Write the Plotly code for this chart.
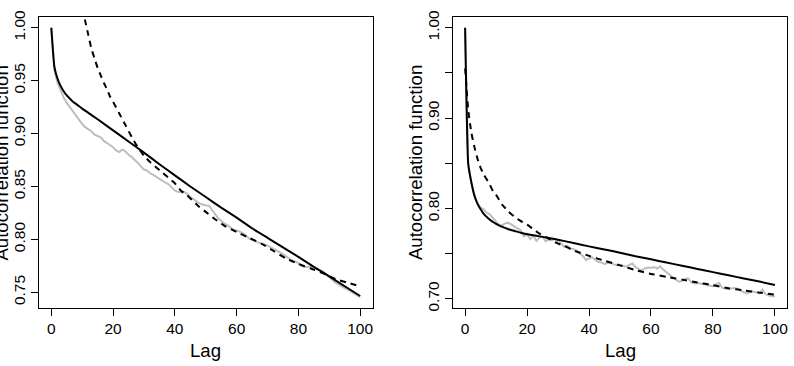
import plotly.graph_objects as go

# ---------------- data ----------------
# Left panel
left_lag_gray = list(range(0, 101))
left_gray = [1.000, 0.960, 0.948, 0.940, 0.934, 0.929, 0.925, 0.921, 0.916, 0.912,
             0.909, 0.906, 0.904, 0.902, 0.899, 0.898, 0.8965, 0.893, 0.891, 0.889,
             0.887, 0.884, 0.8825, 0.885, 0.883, 0.880, 0.878, 0.875, 0.8725, 0.869,
             0.866, 0.865, 0.8625, 0.861, 0.859, 0.857, 0.855, 0.8535, 0.852, 0.849,
             0.846, 0.845, 0.8445, 0.845, 0.843, 0.840, 0.838, 0.836, 0.834, 0.833,
             0.832, 0.832, 0.828, 0.823, 0.820, 0.8175, 0.815, 0.8135, 0.8115, 0.809,
             0.8085, 0.8075, 0.806, 0.8035, 0.801, 0.7995, 0.798, 0.797, 0.796, 0.7955,
             0.794, 0.7925, 0.791, 0.789, 0.788, 0.786, 0.784, 0.782, 0.780, 0.779,
             0.7775, 0.775, 0.774, 0.774, 0.7745, 0.7735, 0.772, 0.771, 0.7695, 0.767,
             0.764, 0.761, 0.759, 0.7575, 0.7555, 0.754, 0.7525, 0.751, 0.749, 0.747,
             0.7455]

left_lag_solid = [0, 1, 2, 3, 4, 5, 6, 7, 8, 10, 12, 15, 20, 25, 30, 35, 40, 45, 50,
                  55, 60, 65, 70, 75, 80, 85, 90, 95, 100]
left_solid = [1.000, 0.963, 0.952, 0.945, 0.940, 0.936, 0.933, 0.930, 0.928, 0.9235,
              0.9195, 0.9135, 0.903, 0.8925, 0.882, 0.871, 0.8605, 0.850, 0.840,
              0.830, 0.8205, 0.8105, 0.8015, 0.7925, 0.7835, 0.774, 0.765, 0.7557,
              0.7465]

left_lag_dash = [10, 11, 12, 13, 14, 15, 16, 17, 18, 19, 20, 22, 24, 26, 28, 30, 32,
                 34, 36, 38, 40, 42, 44, 46, 48, 50, 53, 56, 60, 64, 68, 72, 76, 80,
                 84, 88, 92, 96, 100]
left_dash = [1.018, 1.006, 0.993, 0.980, 0.971, 0.962, 0.955, 0.948, 0.942, 0.935,
             0.930, 0.919, 0.908, 0.897, 0.887, 0.879, 0.873, 0.868, 0.863, 0.858,
             0.853, 0.846, 0.8415, 0.836, 0.8305, 0.826, 0.819, 0.813, 0.807, 0.8015,
             0.796, 0.789, 0.782, 0.7768, 0.7725, 0.768, 0.7625, 0.759, 0.7555]

# Right panel
right_lag_gray = list(range(0, 101))
right_gray = [1.000, 0.850, 0.829, 0.815, 0.806, 0.801, 0.799, 0.795, 0.7935, 0.789,
              0.785, 0.782, 0.7815, 0.7835, 0.784, 0.782, 0.7795, 0.777, 0.7755, 0.769,
              0.772, 0.766, 0.770, 0.764, 0.7675, 0.769, 0.7635, 0.766, 0.7645, 0.7665,
              0.764, 0.761, 0.7575, 0.7585, 0.7555, 0.755, 0.753, 0.750, 0.7475, 0.743,
              0.7445, 0.746, 0.743, 0.741, 0.740, 0.7385, 0.7395, 0.740, 0.738, 0.737,
              0.7375, 0.7365, 0.7355, 0.7375, 0.739, 0.735, 0.733, 0.7315, 0.7335, 0.7345,
              0.734, 0.735, 0.7335, 0.736, 0.732, 0.729, 0.726, 0.7235, 0.721, 0.719,
              0.7195, 0.722, 0.7225, 0.718, 0.717, 0.7175, 0.717, 0.716, 0.7155, 0.7145,
              0.714, 0.716, 0.7175, 0.712, 0.7115, 0.7105, 0.7115, 0.712, 0.711, 0.7085,
              0.707, 0.706, 0.7075, 0.708, 0.707, 0.706, 0.710, 0.705, 0.7035, 0.703,
              0.7025]

right_lag_solid = [0, 1, 2, 3, 4, 5, 6, 7, 8, 9, 10, 12, 14, 16, 18, 20, 25, 30, 35,
                   40, 45, 50, 55, 60, 65, 70, 75, 80, 85, 90, 95, 100]
right_solid = [1.000, 0.849, 0.829, 0.814, 0.805, 0.799, 0.794, 0.7905, 0.7875, 0.785,
               0.783, 0.7795, 0.777, 0.775, 0.773, 0.7715, 0.7685, 0.7653, 0.7617,
               0.758, 0.7545, 0.751, 0.747, 0.7437, 0.7401, 0.7366, 0.733, 0.7295,
               0.726, 0.7225, 0.719, 0.7153]

right_lag_dash = [0, 1, 2, 3, 4, 5, 6, 7, 8, 9, 10, 12, 14, 16, 18, 20, 22, 24, 26,
                  28, 30, 32, 35, 40, 45, 50, 55, 60, 65, 70, 75, 80, 85, 90, 95, 100]
right_dash = [0.955, 0.909, 0.884, 0.868, 0.855, 0.845, 0.8375, 0.832, 0.826, 0.819,
              0.815, 0.804, 0.7965, 0.7905, 0.786, 0.782, 0.777, 0.772, 0.7685, 0.7645,
              0.761, 0.7585, 0.7535, 0.7475, 0.742, 0.737, 0.7318, 0.7275, 0.7243,
              0.7212, 0.718, 0.715, 0.7117, 0.7093, 0.7068, 0.7045]

x_ticks = [0, 20, 40, 60, 80, 100]
left_y_ticks = [0.75, 0.80, 0.85, 0.90, 0.95, 1.00]
left_y_labels = ["0.75", "0.80", "0.85", "0.90", "0.95", "1.00"]
right_y_ticks = [0.70, 0.75, 0.80, 0.85, 0.90, 0.95, 1.00]
right_y_labels = ["0.70", "", "0.80", "", "0.90", "", "1.00"]
x_title = "Lag"
y_title = "Autocorrelation function"

# ---------------- figure ----------------
W, H = 794, 366
FONT = "Liberation Sans, Arial, Helvetica, sans-serif"
GRAY = "#BEBEBE"

fig = go.Figure()

def add_panel(xa, ya, lg, g, ls, s, ld, d):
    fig.add_trace(go.Scatter(x=lg, y=g, mode="lines", line=dict(color=GRAY, width=2),
                             xaxis=xa, yaxis=ya, showlegend=False, hoverinfo="skip"))
    fig.add_trace(go.Scatter(x=ls, y=s, mode="lines", line=dict(color="black", width=2,
                             shape="spline", smoothing=0.4),
                             xaxis=xa, yaxis=ya, showlegend=False, hoverinfo="skip"))
    fig.add_trace(go.Scatter(x=ld, y=d, mode="lines", line=dict(color="black", width=2,
                             dash="6px,5px", shape="spline", smoothing=0.4),
                             xaxis=xa, yaxis=ya, showlegend=False, hoverinfo="skip"))

add_panel("x", "y", left_lag_gray, left_gray, left_lag_solid, left_solid,
          left_lag_dash, left_dash)
add_panel("x2", "y2", right_lag_gray, right_gray, right_lag_solid, right_solid,
          right_lag_dash, right_dash)

top_px, bot_px = 11, 310
ydom = [(H - bot_px) / H, (H - top_px) / H]

axis_common = dict(showline=True, linecolor="black", linewidth=1, mirror=True,
                   ticks="outside", ticklen=7, tickwidth=1, tickcolor="black",
                   showgrid=False, zeroline=False,
                   tickfont=dict(family=FONT, size=15.5, color="black"))

fig.update_layout(
    width=W, height=H,
    margin=dict(l=0, r=0, t=0, b=0),
    paper_bgcolor="white", plot_bgcolor="white",
    xaxis=dict(domain=[39 / W, 373 / W], range=[-4, 104], anchor="y",
               tickmode="array", tickvals=x_ticks,
               ticktext=[str(t) for t in x_ticks], **axis_common),
    yaxis=dict(domain=ydom, range=[0.7356, 1.0104], anchor="x",
               tickmode="array", tickvals=left_y_ticks, ticktext=left_y_labels,
               tickangle=-90, **axis_common),
    xaxis2=dict(domain=[453.3 / W, 788.3 / W], range=[-4, 104], anchor="y2",
                tickmode="array", tickvals=x_ticks,
                ticktext=[str(t) for t in x_ticks], **axis_common),
    yaxis2=dict(domain=ydom, range=[0.6903, 1.0122], anchor="x2",
                tickmode="array", tickvals=right_y_ticks, ticktext=right_y_labels,
                tickangle=-90, **axis_common),
)

def ann(text, px, py, angle=0, size=18.6):
    fig.add_annotation(text=text, x=px / W, y=1 - py / H, xref="paper", yref="paper",
                       showarrow=False, textangle=angle, xanchor="center",
                       yanchor="middle",
                       font=dict(family=FONT, size=size, color="black"))

ann(x_title, 206, 354)
ann(x_title, 621, 354)
ann(y_title, 2, 161, angle=-90)
ann(y_title, 416, 161, angle=-90)

fig.write_html("out.html")
